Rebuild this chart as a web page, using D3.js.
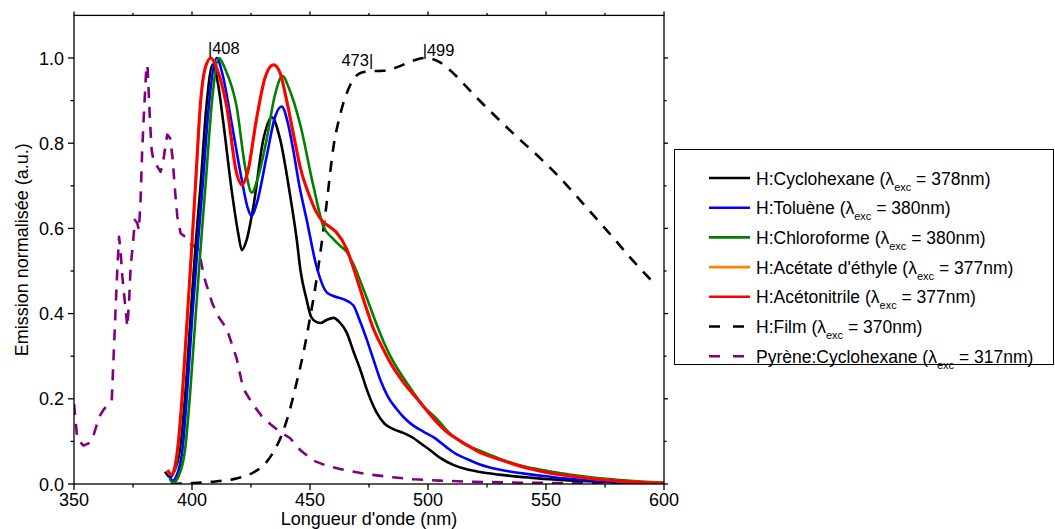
<!DOCTYPE html>
<html><head><meta charset="utf-8">
<script src="https://cdn.jsdelivr.net/npm/d3@7"></script>
<style>
html,body{margin:0;padding:0;background:#fff;}
svg{display:block;font-family:"Liberation Sans",Arial,sans-serif;}
</style></head>
<body><svg id="c" width="1055" height="529"></svg>
<script>
// ---------- data ----------
const xTicks = [350, 400, 450, 500, 550, 600];
const yTicks = [0.0, 0.2, 0.4, 0.6, 0.8, 1.0];
const seriesNames = [
  "H:Cyclohexane", "H:Toluène", "H:Chloroforme", "H:Acétate d'éthyle",
  "H:Acétonitrile", "H:Film", "Pyrène:Cyclohexane"
];
const excitation = [378, 380, 380, 377, 377, 370, 317];

const cyclohexane = [[388.6,0.029],[390.7,0.016],[392.5,0.03],[394.8,0.078],[397,0.2],[399.4,0.392],[401.5,0.56],[403.7,0.706],[406,0.88],[408.8,0.985],[411,0.94],[413.3,0.847],[416.8,0.69],[419.6,0.588],[421.1,0.549],[423,0.57],[426,0.651],[430.2,0.808],[433.8,0.861],[437.3,0.81],[441.5,0.68],[444.4,0.573],[446,0.5],[448.6,0.432],[450.5,0.392],[452.8,0.38],[454.5,0.378],[457,0.385],[459.9,0.39],[462.5,0.38],[465.5,0.356],[468.5,0.31],[471.2,0.27],[474.5,0.215],[478.2,0.168],[481.5,0.142],[485.3,0.129],[489.5,0.12],[493.8,0.108],[497,0.095],[500.8,0.08],[505,0.062],[510.7,0.045],[516,0.035],[522,0.028],[530,0.022],[543,0.015],[555,0.01],[565,0.007],[580,0.004],[600,0.001]];

const toluene = [[390.3,0.02],[391.8,0.008],[393.5,0.02],[395.9,0.078],[398,0.22],[400.1,0.392],[402.3,0.55],[404.6,0.706],[407,0.88],[410.5,1.0],[413,0.96],[416.8,0.847],[421.1,0.714],[423.5,0.65],[425.3,0.629],[427.5,0.66],[431.6,0.768],[435.2,0.862],[438,0.886],[440.5,0.85],[442.9,0.784],[445.5,0.7],[448.6,0.62],[452.8,0.51],[457.1,0.45],[460.5,0.44],[464.1,0.434],[468.4,0.419],[471,0.385],[474,0.34],[477,0.29],[479.7,0.246],[483,0.205],[486.7,0.176],[490,0.155],[493.8,0.137],[498,0.123],[502.3,0.11],[507.9,0.086],[512,0.07],[516.4,0.059],[522,0.046],[529.1,0.035],[540,0.025],[550.3,0.018],[560,0.012],[571.5,0.008],[585,0.004],[600,0.002]];

const chloroforme = [[390.5,0.012],[392.1,0.003],[394,0.015],[397,0.078],[399.3,0.22],[401.5,0.392],[403.6,0.55],[405.8,0.706],[408.5,0.9],[411.4,1.0],[414,0.975],[418.9,0.886],[422.5,0.745],[425.3,0.684],[428,0.72],[431.6,0.808],[435,0.91],[438.4,0.958],[441,0.93],[445.8,0.845],[451.4,0.70],[455.6,0.606],[459.9,0.575],[463,0.558],[465.5,0.545],[468.5,0.515],[471.2,0.478],[474.5,0.43],[478.2,0.375],[481.5,0.33],[485.3,0.287],[489.5,0.25],[493.8,0.215],[498,0.183],[503.7,0.153],[509,0.12],[515,0.095],[522,0.078],[530,0.06],[540,0.042],[550.3,0.031],[560,0.022],[570,0.015],[580,0.01],[590,0.006],[600,0.003]];

const acetate = [[389.8,0.032],[391.3,0.021],[392.6,0.034],[393.9,0.078],[396.1,0.22],[398.1,0.392],[399.9,0.55],[401.6,0.706],[403.8,0.902],[405.6,0.975],[408.1,1.0],[410.6,0.975],[414.8,0.886],[419,0.729],[421.2,0.702],[423.6,0.73],[427.5,0.86],[431.1,0.955],[434.6,0.984],[437.4,0.965],[440.2,0.9],[443.1,0.82],[446.1,0.74],[449.6,0.68],[452.6,0.64],[455.7,0.615],[458.6,0.603],[461.4,0.59],[465.6,0.552],[468.6,0.505],[471.3,0.458],[474.1,0.41],[477,0.364],[480.6,0.322],[484,0.286],[489.6,0.239],[496.7,0.192],[503.8,0.145],[508,0.122],[512.3,0.106],[517,0.09],[522,0.074],[529,0.06],[536.1,0.047],[543,0.036],[550.3,0.027],[557,0.021],[564.4,0.016],[571,0.012],[578.5,0.008],[590,0.004],[600,0.002]];

const acetonitrile = [[389.7,0.033],[391.2,0.022],[392.5,0.035],[393.8,0.078],[396,0.22],[398,0.392],[399.8,0.55],[401.5,0.706],[403.7,0.902],[405.5,0.975],[408,1.0],[410.5,0.975],[414.7,0.886],[418.9,0.729],[421.1,0.702],[423.5,0.73],[427.4,0.86],[431,0.955],[434.5,0.984],[437.3,0.965],[440.1,0.9],[443,0.82],[446,0.74],[449.5,0.68],[452.5,0.64],[455.6,0.615],[458.5,0.603],[461.3,0.59],[465.5,0.552],[468.5,0.505],[471.2,0.458],[474,0.41],[476.9,0.364],[480.5,0.322],[483.9,0.286],[489.5,0.239],[496.6,0.192],[503.7,0.145],[508,0.122],[512.2,0.106],[517,0.09],[522,0.074],[529,0.06],[536.1,0.047],[543,0.036],[550.3,0.027],[557,0.021],[564.4,0.016],[571,0.012],[578.5,0.008],[590,0.004],[600,0.002]];

const film = [[391,0.0],[400,0.002],[410,0.006],[418,0.012],[426,0.027],[430.5,0.045],[434.5,0.075],[438.7,0.125],[441.5,0.175],[444.4,0.24],[447.3,0.31],[450,0.39],[452.2,0.46],[454.2,0.535],[457.1,0.661],[459.9,0.79],[462.7,0.865],[466.9,0.935],[471.9,0.966],[476,0.969],[481.1,0.97],[486.7,0.978],[493.8,0.994],[498.7,1.0],[505.1,0.99],[510,0.968],[515,0.94],[521,0.905],[527.7,0.868],[536.1,0.823],[547.5,0.765],[554.5,0.727],[561.6,0.684],[568.6,0.64],[578.5,0.578],[585.6,0.532],[596,0.47]];

const pyrene = [[350,0.188],[351.4,0.106],[354,0.09],[357.1,0.098],[358.5,0.118],[360.6,0.157],[362.7,0.176],[366,0.196],[366.9,0.314],[367.6,0.408],[368.4,0.51],[369.1,0.58],[369.8,0.541],[370.5,0.486],[371.9,0.408],[372.6,0.369],[373.3,0.424],[374,0.51],[375,0.565],[375.8,0.62],[376.8,0.612],[377.5,0.596],[378.2,0.667],[378.9,0.784],[379.7,0.878],[380.6,0.973],[381.1,0.984],[381.5,0.941],[382.1,0.863],[382.9,0.784],[383.9,0.753],[385.3,0.745],[386.7,0.733],[387.7,0.753],[388.5,0.784],[389.5,0.82],[390.7,0.812],[391.7,0.769],[392.8,0.69],[393.8,0.627],[395.2,0.588],[397.3,0.58],[398.7,0.565],[400.5,0.56],[402.9,0.549],[405.1,0.486],[408.6,0.424],[411.5,0.39],[414.7,0.365],[418.9,0.295],[421.7,0.224],[426,0.185],[429.5,0.16],[433.1,0.141],[437.3,0.122],[441.5,0.108],[445.8,0.08],[451.4,0.055],[457,0.043],[462.7,0.035],[474,0.023],[485,0.016],[494,0.011],[505,0.008],[520,0.005],[540,0.003],[560,0.002],[580,0.001],[600,0.0]];

const peakLabels = [["|408", 408, 1.009, "start"], ["473|", 473, 0.981, "end"], ["|499", 499, 1.005, "start"]];

// ---------- layout ----------
const svg = d3.select("#c");
const L = 74, R = 664, T = 15.4, B = 484;
const x = d3.scaleLinear().domain([350, 600]).range([L, R]);
const y = d3.scaleLinear().domain([0, 1.1]).range([B, T]);
const fontSize = 18;

svg.append("defs").append("clipPath").attr("id", "clip")
  .append("rect").attr("x", L).attr("y", T).attr("width", R - L).attr("height", B - T);

const colors = ["#000000", "#0000ff", "#008000", "#ff8000", "#ff0000", "#000000", "#800080"];
const dashes = [null, null, null, null, null, "11,9", "11,9"];
const datasets = [cyclohexane, toluene, chloroforme, acetate, acetonitrile, film, pyrene];

const lineSmooth = d3.line().x(d => x(d[0])).y(d => y(d[1])).curve(d3.curveMonotoneX);
const lineRaw = d3.line().x(d => x(d[0])).y(d => y(d[1])).curve(d3.curveLinear);

const plot = svg.append("g").attr("clip-path", "url(#clip)");
const order = [6, 5, 0, 1, 2, 3, 4];
order.forEach(i => {
  plot.append("path").datum(datasets[i])
    .attr("d", i === 6 ? lineRaw(datasets[i]) : lineSmooth(datasets[i]))
    .attr("fill", "none")
    .attr("stroke", colors[i])
    .attr("stroke-width", i === 4 ? 3 : 2.6)
    .attr("stroke-linejoin", "round")
    .attr("stroke-dasharray", dashes[i]);
});

// ---------- axes ----------
const minorX = d3.range(375, 600, 50);
const minorY = d3.range(0.1, 1.1, 0.2);
const ax = svg.append("g").attr("stroke", "#000").attr("stroke-width", 1.3);
ax.append("rect").attr("x", L).attr("y", T).attr("width", R - L).attr("height", B - T).attr("fill", "none");
xTicks.forEach(t => {
  ax.append("line").attr("x1", x(t)).attr("x2", x(t)).attr("y1", B).attr("y2", B + 6);
  ax.append("line").attr("x1", x(t)).attr("x2", x(t)).attr("y1", T).attr("y2", T - 4);
});
minorX.forEach(t => {
  ax.append("line").attr("x1", x(t)).attr("x2", x(t)).attr("y1", B).attr("y2", B + 3.5);
  ax.append("line").attr("x1", x(t)).attr("x2", x(t)).attr("y1", T).attr("y2", T - 2.5);
});
yTicks.forEach(t => {
  ax.append("line").attr("x1", L).attr("x2", L - 6).attr("y1", y(t)).attr("y2", y(t));
  ax.append("line").attr("x1", R).attr("x2", R + 4).attr("y1", y(t)).attr("y2", y(t));
});
minorY.forEach(t => {
  ax.append("line").attr("x1", L).attr("x2", L - 3.5).attr("y1", y(t)).attr("y2", y(t));
  ax.append("line").attr("x1", R).attr("x2", R + 2.5).attr("y1", y(t)).attr("y2", y(t));
});
svg.append("g").selectAll("text").data(xTicks).join("text")
  .attr("x", d => x(d)).attr("y", B + 22).attr("text-anchor", "middle")
  .attr("font-size", fontSize).text(d => d3.format("d")(d));
svg.append("g").selectAll("text").data(yTicks).join("text")
  .attr("x", L - 10).attr("y", d => y(d) + 6.5).attr("text-anchor", "end")
  .attr("font-size", fontSize).text(d => d3.format(".1f")(d));

svg.append("text").attr("x", (L + R) / 2).attr("y", 524.5).attr("text-anchor", "middle")
  .attr("font-size", fontSize).text("Longueur d'onde (nm)");
svg.append("text").attr("transform", `translate(28,${(T + B) / 2}) rotate(-90)`)
  .attr("text-anchor", "middle").attr("font-size", fontSize).text("Emission normalisée (a.u.)");

svg.append("g").selectAll("text").data(peakLabels).join("text")
  .attr("x", d => d[3] === "start" ? x(d[1]) - 3 : x(d[1]) + 9)
  .attr("y", d => y(d[2]))
  .attr("text-anchor", d => d[3])
  .attr("font-size", 16.5).text(d => d[0]);

// ---------- legend ----------
const lg = svg.append("g");
lg.append("rect").attr("x", 674.5).attr("y", 149.5).attr("width", 379).attr("height", 215)
  .attr("fill", "#fff").attr("stroke", "#000").attr("stroke-width", 1);
seriesNames.forEach((name, i) => {
  const cy = 178 + i * 29.7;
  lg.append("line").attr("x1", 709).attr("x2", 750).attr("y1", cy).attr("y2", cy)
    .attr("stroke", colors[i]).attr("stroke-width", 2.6)
    .attr("stroke-dasharray", dashes[i] ? "11,13" : null);
  const t = lg.append("text").attr("x", 756).attr("y", cy + 6.5).attr("font-size", 17.5);
  t.append("tspan").text(name + " (λ");
  t.append("tspan").attr("font-size", 11).attr("dy", 6).text("exc");
  t.append("tspan").attr("dy", -6).text(" = " + excitation[i] + "nm)");
});
</script></body></html>
